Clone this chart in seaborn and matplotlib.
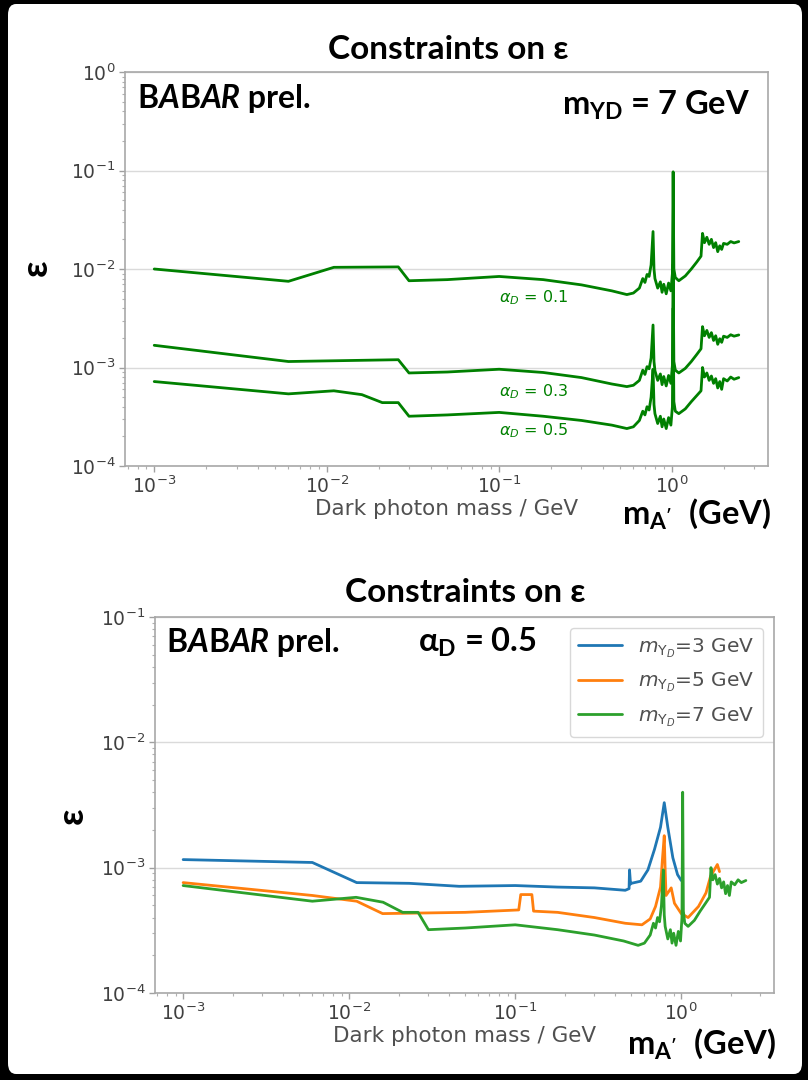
import numpy as np
import pandas as pd
import matplotlib
matplotlib.use("Agg")
import matplotlib.pyplot as plt
import seaborn as sns
from matplotlib.patches import FancyBboxPatch

# ---------------- data ----------------
# top panel: m_YD = 7 GeV, three alpha_D values
mass_tail = [0.45, 0.55, 0.60, 0.65, 0.68, 0.70, 0.72, 0.74, 0.76, 0.78, 0.79, 0.80,
             0.83, 0.86, 0.88, 0.90, 0.93, 0.96, 0.99, 1.01, 1.02, 1.03, 1.05, 1.1,
             1.2, 1.3, 1.4, 1.48, 1.51, 1.55, 1.6, 1.65, 1.7, 1.75, 1.8, 1.85, 1.9,
             1.95, 2.0, 2.1, 2.2, 2.3, 2.45]

mass_a01_head = [0.001, 0.006, 0.011, 0.026, 0.030, 0.05, 0.10, 0.18, 0.30]
eps_a01_head = [0.0100, 0.0075, 0.0104, 0.0105, 0.0076, 0.0078, 0.0084, 0.0078, 0.0069]
eps_a01_tail = [0.0060, 0.0055, 0.0057, 0.0064, 0.0080, 0.0073, 0.0088, 0.0084, 0.0110,
                0.0240, 0.0100, 0.0080, 0.0064, 0.0074, 0.0058, 0.0070, 0.0056, 0.0072,
                0.0060, 0.0090, 0.0970, 0.0100, 0.0082, 0.0076, 0.0085, 0.0100, 0.0118,
                0.0135, 0.0230, 0.0185, 0.0210, 0.0178, 0.0200, 0.0165, 0.0185, 0.0150,
                0.0172, 0.0158, 0.0182, 0.0178, 0.0190, 0.0184, 0.0190]

mass_a03_head = [0.001, 0.006, 0.026, 0.030, 0.05, 0.10, 0.18, 0.30]
eps_a03_head = [0.00168, 0.00115, 0.00120, 0.00088, 0.00090, 0.00096, 0.00089, 0.00079]
eps_a03_tail = [0.00068, 0.00064, 0.00066, 0.00074, 0.00094, 0.00085, 0.00102, 0.00097,
                0.00125, 0.0027, 0.00115, 0.00093, 0.00074, 0.00086, 0.00067, 0.00081,
                0.00065, 0.00083, 0.00069, 0.00105, 0.0112, 0.00115, 0.00094, 0.00088,
                0.00098, 0.00115, 0.00136, 0.00155, 0.0026, 0.00210, 0.00238, 0.00202,
                0.00226, 0.00188, 0.00210, 0.00172, 0.00196, 0.00180, 0.00208, 0.00202,
                0.00215, 0.00208, 0.00214]

mass_a05_head = [0.001, 0.006, 0.011, 0.016, 0.021, 0.026, 0.030, 0.05, 0.10, 0.18, 0.30]
eps_a05_head = [0.00072, 0.00054, 0.00058, 0.00053, 0.00044, 0.00044, 0.00032, 0.00033,
                0.00035, 0.00032, 0.00029]
eps_a05_tail = [0.00026, 0.00024, 0.00025, 0.00029, 0.00036, 0.00033, 0.00040, 0.00037,
                0.00050, 0.00096, 0.00042, 0.00034, 0.00027, 0.00032, 0.00025, 0.00030,
                0.00024, 0.00031, 0.00026, 0.00040, 0.0040, 0.00045, 0.00036, 0.00034,
                0.00038, 0.00045, 0.00052, 0.00058, 0.00100, 0.00080, 0.00088, 0.00074,
                0.00082, 0.00069, 0.00077, 0.00062, 0.00072, 0.00060, 0.00077, 0.00073,
                0.00080, 0.00076, 0.00079]

alpha_labels = [r"$\alpha_D$ = 0.1", r"$\alpha_D$ = 0.3", r"$\alpha_D$ = 0.5"]
alpha_label_pos = [(0.1, 0.0051), (0.1, 0.00057), (0.1, 0.000226)]

# bottom panel: alpha_D = 0.5, three m_YD values
mass_3gev = [0.001, 0.006, 0.0111, 0.023, 0.046, 0.10, 0.18, 0.30, 0.46, 0.485, 0.488,
             0.495, 0.50, 0.57, 0.63, 0.69, 0.75, 0.79, 0.83, 0.89, 0.95, 1.00]
eps_3gev = [0.00116, 0.00110, 0.00076, 0.00075, 0.00071, 0.00072, 0.00070, 0.00069,
            0.00066, 0.00068, 0.00096, 0.00074, 0.00075, 0.00078, 0.00096, 0.00140,
            0.00210, 0.00330, 0.00210, 0.00120, 0.00088, 0.00079]

mass_5gev = [0.001, 0.006, 0.0111, 0.0159, 0.05, 0.105, 0.108, 0.126, 0.129, 0.18, 0.30,
             0.46, 0.58, 0.65, 0.70, 0.75, 0.77, 0.79, 0.80, 0.81, 0.87, 0.91, 1.00,
             1.10, 1.27, 1.41, 1.50, 1.65, 1.70]
eps_5gev = [0.00076, 0.00060, 0.00054, 0.00043, 0.00044, 0.00046, 0.00061, 0.00061,
            0.00045, 0.00044, 0.00040, 0.00036, 0.00035, 0.00039, 0.00049, 0.00070,
            0.00116, 0.00180, 0.00096, 0.00060, 0.00069, 0.00052, 0.00043, 0.00040,
            0.00049, 0.00063, 0.00085, 0.00106, 0.00093]

legend_labels = [r"$m_{\Upsilon_D}$=3 GeV", r"$m_{\Upsilon_D}$=5 GeV", r"$m_{\Upsilon_D}$=7 GeV"]
series_colors = ["#1f77b4", "#ff7f0e", "#2ca02c"]

# ---------------- style ----------------
sns.set_theme(style="whitegrid")
plt.rcParams["font.family"] = ["DejaVu Sans"]
plt.rcParams["mathtext.fontset"] = "dejavusans"
plt.rcParams["mathtext.rm"] = "Lato"
plt.rcParams["mathtext.bf"] = "Lato:bold"
plt.rcParams["mathtext.it"] = "Lato:italic"
plt.rcParams["mathtext.sf"] = "Lato"

W, H = 808, 1080
fig = plt.figure(figsize=(W / 100, H / 100), dpi=100, facecolor="black")


def fx(px):
    return px / W


def fy(py):
    return 1 - py / H


panel = FancyBboxPatch((fx(8), fy(1074)), fx(802) - fx(8), fy(4) - fy(1074),
                       boxstyle="round,pad=0,rounding_size=0.01",
                       transform=fig.transFigure, facecolor="white",
                       edgecolor="none", zorder=-5)
fig.add_artist(panel)

ax1 = fig.add_axes([fx(125), fy(466), (768 - 125) / W, (466 - 72) / H])
ax2 = fig.add_axes([fx(155), fy(993), (774 - 155) / W, (993 - 617) / H])

for ax in (ax1, ax2):
    ax.set_xscale("log")
    ax.set_yscale("log")
    ax.set_facecolor("white")

# ---------------- top panel ----------------
top_series = [
    (mass_a01_head + mass_tail, eps_a01_head + eps_a01_tail),
    (mass_a03_head + mass_tail, eps_a03_head + eps_a03_tail),
    (mass_a05_head + mass_tail, eps_a05_head + eps_a05_tail),
]
for mx, ey in top_series:
    sns.lineplot(x=mx, y=ey, ax=ax1, color="green", lw=2.0, estimator=None, sort=False)

for lab, (lx, ly) in zip(alpha_labels, alpha_label_pos):
    ax1.text(lx, ly, lab, color="green", fontsize=11.5, ha="left", va="center")

ax1.set_ylim(1e-4, 1)

# ---------------- bottom panel ----------------
df = pd.concat([
    pd.DataFrame({"m": mass_3gev, "eps": eps_3gev, "series": legend_labels[0]}),
    pd.DataFrame({"m": mass_5gev, "eps": eps_5gev, "series": legend_labels[1]}),
    pd.DataFrame({"m": mass_a05_head + mass_tail, "eps": eps_a05_head + eps_a05_tail,
                  "series": legend_labels[2]}),
], ignore_index=True)
sns.lineplot(data=df, x="m", y="eps", hue="series", hue_order=legend_labels,
             palette=series_colors, lw=2.0, estimator=None, sort=False, ax=ax2)
ax2.set_ylim(1e-4, 1e-1)
leg = ax2.legend(loc="upper right", fontsize=14.5, frameon=True, edgecolor="#d8d8d8",
                 labelcolor="#505050", handlelength=2.2, labelspacing=0.55,
                 borderaxespad=0.55, fancybox=True, framealpha=1.0)
for line in leg.get_lines():
    line.set_linewidth(2.0)

for ax in (ax1, ax2):
    ax.xaxis.grid(False, which="both")
    ax.yaxis.grid(True, which="major", color="#dadada", lw=1.0)
    ax.yaxis.grid(False, which="minor")
    for s in ax.spines.values():
        s.set_color("#a8a8a8")
        s.set_linewidth(1.2)
    ax.tick_params(axis="both", which="major", direction="out", length=4, width=1,
                   color="#a0a0a0", labelsize=13.5, labelcolor="#404040",
                   left=True, bottom=True, pad=3)
    ax.tick_params(axis="both", which="minor", direction="out", length=2.5, width=0.8,
                   color="#b0b0b0", left=True, bottom=True)
    ax.set_xlabel("Dark photon mass / GeV", fontsize=15.5, color="#505050", labelpad=1.5)
    ax.set_ylabel("")

# ---------------- annotations ----------------
big = dict(fontsize=23.5, fontweight="bold", color="black", family="Lato")
renderer = fig.canvas.get_renderer()


def place_pieces(x_px, y_px, pieces, fs=23):
    x = x_px
    for txt, st in pieces:
        t = fig.text(fx(x), fy(y_px), txt, fontsize=fs, fontweight="bold",
                     fontstyle=st, family="Lato", color="black",
                     ha="left", va="baseline")
        bb = t.get_window_extent(renderer)
        x += bb.width


babar = [("B", "normal"), ("A", "italic"), ("B", "normal"), ("AR", "italic"),
         (" prel.", "normal")]
place_pieces(137, 108, babar)
place_pieces(166, 652, babar)

for cx, by in [(448, 59), (465, 602)]:
    fig.text(fx(cx), fy(by), "Constraints on ε", fontsize=24, fontweight="bold",
             color="black", family=["Lato", "DejaVu Sans"], ha="center", va="baseline")

for cx, cy in [(36, 268), (72, 816)]:
    fig.text(fx(cx), fy(cy), "ε", fontsize=26, fontweight="bold", rotation=90,
             color="black", family=["Lato", "DejaVu Sans"], ha="center", va="center")

fig.text(fx(562), fy(115), r"m$_{\mathbf{YD}}$ = 7 GeV", math_fontfamily="custom",
         ha="left", va="baseline", **big)
fig.text(fx(418), fy(652), r"$\mathbf{\alpha}_{\mathbf{D}}$ = 0.5",
         math_fontfamily="custom", ha="left", va="baseline", **big)
for x0, by in [(622, 524), (627, 1054)]:
    fig.text(fx(x0), fy(by), r"m$_{\mathbf{A'}}$  (GeV)", math_fontfamily="custom",
             ha="left", va="baseline", **big)

fig.savefig("out.png", dpi=100, facecolor=fig.get_facecolor())
